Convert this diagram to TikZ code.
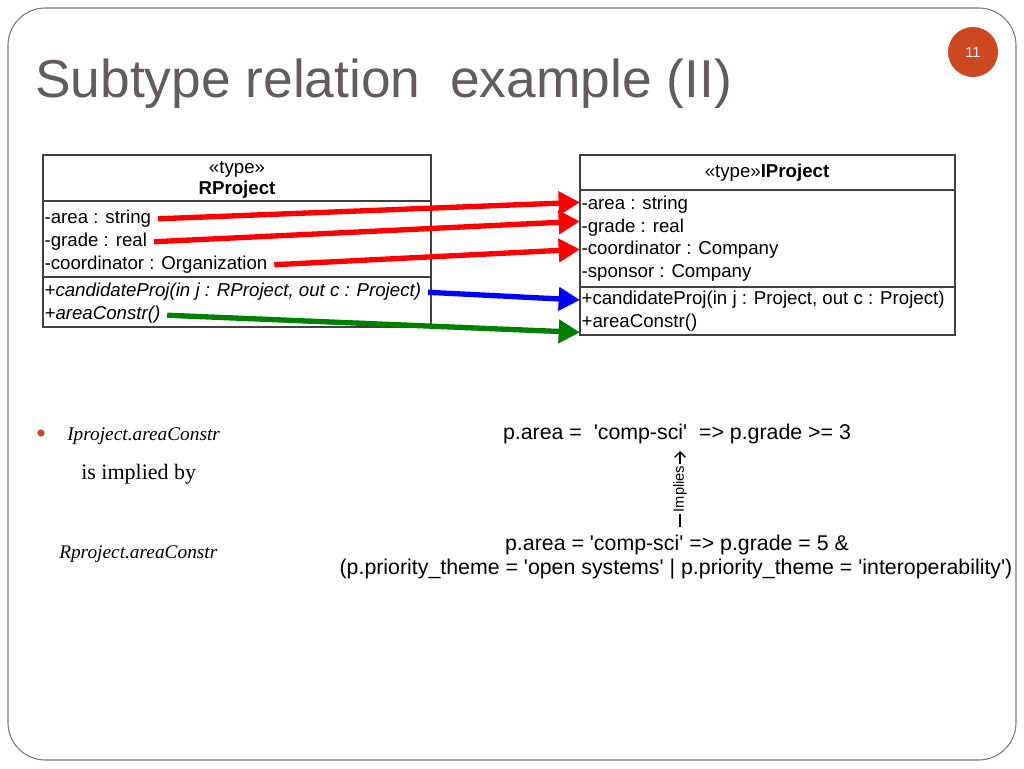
\documentclass[tikz,border=0pt]{standalone}
\usepackage{fontspec}
\setmainfont{Liberation Serif}
\newfontfamily\umlfont{Liberation Sans}
\usetikzlibrary{arrows.meta}

\definecolor{titlegray}{RGB}{98,92,92}
\definecolor{framegray}{RGB}{120,120,120}
\definecolor{slideorange}{RGB}{205,72,32}
\definecolor{umlgreen}{RGB}{0,128,0}

\tikzset{
  row/.style={anchor=west, inner xsep=1pt, inner ysep=1pt, yshift=-1.5pt, font=\umlfont\fontsize{14}{16}\selectfont},
  box/.style={draw=black!75, line width=0.9pt},
  map/.style={line width=4pt, shorten <=4pt, -{Triangle[length=16pt,width=17pt]}},
  formula/.style={font=\umlfont\fontsize{16}{19}\selectfont},
  slidetext/.style={anchor=base west, inner sep=0pt},
}

\begin{document}
\begin{tikzpicture}[x=0.75pt, y=-0.75pt]
\useasboundingbox (0,0) rectangle (1024,768);
\draw[framegray, line width=0.8pt, rounded corners=28pt] (8,8) rectangle (1016,760);
\node[slidetext, text=titlegray, font=\umlfont\fontsize{40}{44}\selectfont] (title) at (35,97) {Subtype relation\ \ example (II)};
\node[circle, fill=slideorange, minimum size=37.5pt, text=white, font=\umlfont\fontsize{11}{12}\selectfont] (pageno) at (973,52) {11};

% left type
\draw[box] (43,155) rectangle (431,327);
\draw[box] (43,201) -- (431,201);
\draw[box] (43,277) -- (431,277);
\node[font=\umlfont\fontsize{14}{16}\selectfont] (lstereo) at (237,169) {«type»};
\node[font=\umlfont\bfseries\fontsize{14}{16}\selectfont] (lname) at (237,190) {RProject};
\node[row] (lat1) at (43,217) {-area : string};
\node[row] (lat2) at (43,240) {-grade : real};
\node[row] (lat3) at (43,263) {-coordinator : Organization};
\node[row] (lop1) at (43,290) {\itshape +candidateProj(in j : RProject, out c : Project)};
\node[row] (lop2) at (43,313) {\itshape +areaConstr()};

% right type
\draw[box] (580,155) rectangle (955,335);
\draw[box] (580,190) -- (955,190);
\draw[box] (580,287) -- (955,287);
\node[font=\umlfont\fontsize{14}{16}\selectfont] (rname) at (767,173) {«type»\textbf{IProject}};
\node[row] (rat1) at (580,203) {-area : string};
\node[row] (rat2) at (580,226) {-grade : real};
\node[row] (rat3) at (580,248) {-coordinator : Company};
\node[row] (rat4) at (580,271) {-sponsor : Company};
\node[row] (rop1) at (580,298) {+candidateProj(in j : Project, out c : Project)};
\node[row] (rop2) at (580,321) {+areaConstr()};

\draw[map, red] (lat1.east) -- ([yshift=2pt]rat1.west);
\draw[map, red] (lat2.east) -- ([yshift=5pt]rat2.west);
\draw[map, red] (lat3.east) -- ([yshift=0.5pt]rat3.west);
\draw[map, blue] (lop1.east) -- (rop1.west);
\draw[map, umlgreen] (lop2.east) -- ([yshift=-7pt]rop2.west);

% bullet text
\node[circle, fill=slideorange, inner sep=0pt, minimum size=5.5pt] (dot) at (41,433) {};
\node[slidetext, font=\itshape\fontsize{14.5}{17}\selectfont] (iarea) at (67,440) {Iproject.areaConstr};
\node[slidetext, font=\fontsize{16.5}{19}\selectfont] (implied) at (81,479) {is implied by};
\node[slidetext, font=\itshape\fontsize{14.5}{17}\selectfont] (rarea) at (59,558) {Rproject.areaConstr};

% constraints
\node[formula] (cons) at (677,434) {p.area =\ \ 'comp-sci'\ \ => p.grade >= 3};
\node[formula] (prem1) at (677,545) {p.area = 'comp-sci' => p.grade = 5 \&};
\node[formula] (prem2) at (676,569) {(p.priority\_theme = 'open systems' | p.priority\_theme = 'interoperability')};
\coordinate (implo) at (680,527);
\coordinate (imphi) at (680,451);
\draw[-{Straight Barb[length=4pt,width=8pt]}, line width=1pt] (implo) -- (imphi)
  node[midway, sloped, fill=white, inner sep=1pt, font=\umlfont\fontsize{11}{12}\selectfont] (implab) {Implies};
\end{tikzpicture}
\end{document}
